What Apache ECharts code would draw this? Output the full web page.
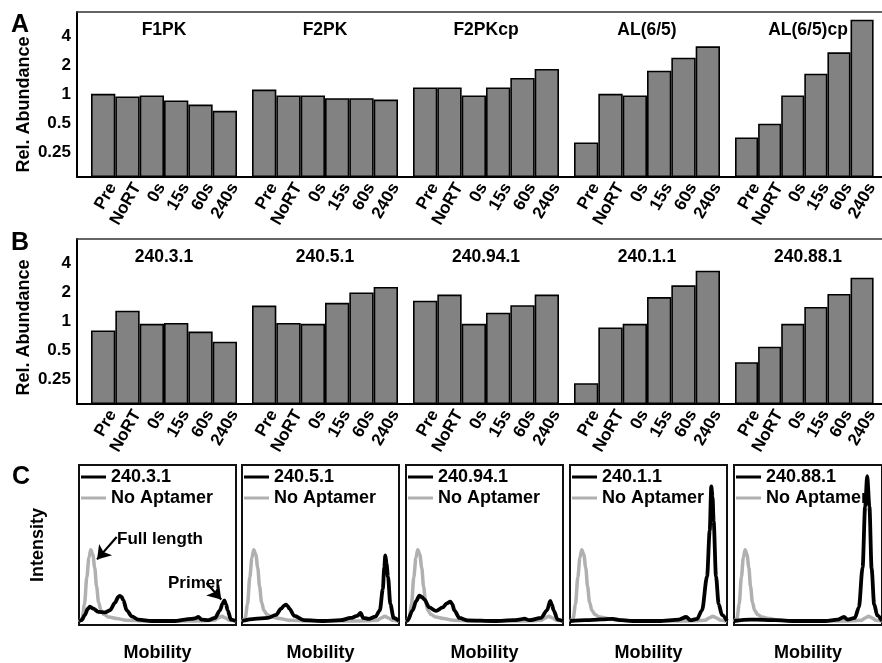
<!DOCTYPE html>
<html>
<head>
<meta charset="utf-8">
<script src="https://cdn.jsdelivr.net/npm/echarts@6/dist/echarts.min.js"></script>
<style>html,body{margin:0;padding:0;background:#fff}#c{width:882px;height:663px}</style>
</head>
<body>
<div id="c"></div>
<script>
// ---------- DATA ----------
const categories = ['Pre', 'NoRT', '0s', '15s', '60s', '240s'];
const tickValues = [0.25, 0.5, 1, 2, 4];
const tickLabels = ['0.25', '0.5', '1', '2', '4'];

const titlesA = ['F1PK', 'F2PK', 'F2PKcp', 'AL(6/5)', 'AL(6/5)cp'];
const f1pk    = [1.02, 0.96, 0.98, 0.87, 0.79, 0.68];
const f2pk    = [1.13, 0.98, 0.98, 0.92, 0.92, 0.89];
const f2pkcp  = [1.19, 1.19, 0.98, 1.19, 1.49, 1.85];
const al65    = [0.32, 1.02, 0.98, 1.77, 2.42, 3.17];
const al65cp  = [0.36, 0.50, 0.98, 1.65, 2.75, 6.0];

const titlesB = ['240.3.1', '240.5.1', '240.94.1', '240.1.1', '240.88.1'];
const b240_3_1  = [0.81, 1.30, 0.95, 0.97, 0.79, 0.62];
const b240_5_1  = [1.47, 0.97, 0.95, 1.57, 2.01, 2.29];
const b240_94_1 = [1.65, 1.91, 0.95, 1.24, 1.48, 1.91];
const b240_1_1  = [0.23, 0.87, 0.95, 1.80, 2.38, 3.38];
const b240_88_1 = [0.38, 0.55, 0.95, 1.42, 1.94, 2.86];

// Panel C traces: [mobility %, intensity %]
const noAptamer = [[0,2],[2,4],[3.5,13],[5,30],[6.3,42],[7.5,47],[8.8,44],[10,36],[11.2,24],[12.5,14],[14,9],[16,6.5],[19,5],[24,4],[30,3],[40,2.5],[50,2.5],[60,2.5],[70,2.5],[80,2.6],[86,3],[89,4.5],[91,5.5],[93,4.5],[96,3],[100,2.5]];
const t240_3_1 = [[0,2.5],[1.7,3],[3.8,6.3],[5.5,10],[7,11.5],[9.1,10.2],[12.3,8.2],[16.6,7.9],[19.7,9.2],[23,14],[25,17.5],[26,18.2],[27.2,17.5],[28.2,15.5],[30.4,9.2],[33.6,5.4],[37.8,3.4],[46.3,2.5],[61.1,2.5],[67.5,3.4],[71.7,3.8],[74,4.2],[76,5],[78.1,3.4],[82.4,3],[86.6,4.4],[89.8,9.2],[91.5,13.5],[92.6,15.3],[93.6,13],[94.7,9.2],[96.8,3.4],[100,2.5]];
const t240_5_1 = [[0,2.5],[8,3.8],[16.5,4.4],[21.7,6.3],[24.9,10.2],[27,12.3],[28,12.7],[29,12],[30.2,10.2],[33.3,5.7],[39.7,3],[52.3,2.5],[62.8,3],[69.2,4.4],[73.4,5.7],[75.5,7.5],[77.2,4.4],[80.8,3.8],[85,5.2],[87.8,9.2],[89.7,22.4],[90.6,36],[91.3,43.5],[92.1,38],[93,30],[94.5,13],[96.6,4.4],[100,2.5]];
const t240_94_1 = [[0,2.5],[1,2.8],[4.2,9.2],[6.5,15],[8.5,18.4],[10,17.5],[11.7,16],[14.8,11],[19.1,8.8],[23.4,11],[26,13.5],[28.2,14.6],[29.5,13],[30.8,9.2],[34,4.4],[39.3,2.9],[56,2.5],[69,3],[73,3.5],[75.4,4],[78.5,3],[86,4.4],[89.8,9.2],[91.9,15],[93,12.5],[94,9.2],[96.6,3.4],[100,2.5]];
const t240_1_1 = [[0,2.5],[10.2,3],[20,3.5],[27.1,3.8],[33,3],[39.8,2.5],[56.6,2.5],[69.4,3.4],[74,5],[76.7,3],[80.9,3.8],[84.1,9.2],[87.3,30.3],[89,59],[90,86.6],[90.8,80],[91.5,64.7],[93,30.3],[94.7,13],[96.8,6.3],[100,2.5]];
const t240_88_1 = [[0,2.5],[11,3.4],[20,3.2],[27.9,3],[40.5,2.5],[61.6,2.5],[70,3.4],[74.3,5],[76.8,3.4],[81.6,4.4],[84.4,11],[86.9,36],[88.6,74],[90,93],[91.5,74],[93,35],[94.7,13],[96.8,6],[100,2.5]];

// ---------- LAYOUT / STYLE ----------
const FONT = '"Liberation Sans", Arial, Helvetica, sans-serif';
const LOG_MIN = 0.14, LOG_MAX = 7.2;
const tr = v => Math.log2(v / LOG_MIN);
const TMAX = tr(LOG_MAX);
const barLefts = [91, 252, 413, 574, 735];
const lineLefts = [79, 242, 406, 570, 734];

const grids = [], xAxes = [], yAxes = [], series = [], titles = [], legends = [];
const txt = (size) => ({fontSize: size, fontWeight: 'bold', color: '#000', fontFamily: FONT});

function addFrame(top, nameShift) {
  const gi = grids.length;
  grids.push({left: 77, top: top, width: 830, height: 165});
  xAxes.push({gridIndex: gi, type: 'value', min: 0, max: 1, position: 'bottom',
    axisLine: {show: true, onZero: false, lineStyle: {color: '#000', width: 2}},
    axisTick: {show: false}, axisLabel: {show: false}, splitLine: {show: false}});
  xAxes.push({gridIndex: gi, type: 'value', min: 0, max: 1, position: 'top',
    axisLine: {show: true, onZero: false, lineStyle: {color: '#333', width: 1.5}},
    axisTick: {show: false}, axisLabel: {show: false}, splitLine: {show: false}});
  yAxes.push({gridIndex: gi, type: 'value', min: 0, max: TMAX,
    axisLine: {show: true, onZero: false, lineStyle: {color: '#000', width: 2}},
    axisTick: {show: false}, splitLine: {show: false},
    axisLabel: Object.assign(txt(17), {margin: 6, customValues: tickValues.map(tr),
      formatter: (val) => {
        const v = Math.pow(2, val) * LOG_MIN;
        let best = 0;
        tickValues.forEach((t, i) => { if (Math.abs(Math.log2(t / v)) < Math.abs(Math.log2(tickValues[best] / v))) best = i; });
        return tickLabels[best];
      }}),
    name: 'Rel. Abundance', nameLocation: 'middle', nameGap: 44, nameMoveOverlap: false,
    nameTextStyle: Object.assign(txt(18), {padding: [0, nameShift, 0, 0]})});
}

function addBars(top, titleList, dataList) {
  dataList.forEach((vals, i) => {
    const gi = grids.length;
    grids.push({left: barLefts[i], top: top, width: 146, height: 165});
    const xi = xAxes.length, yi = yAxes.length;
    xAxes.push({gridIndex: gi, type: 'category', data: categories,
      axisLine: {show: false}, axisTick: {show: false}, splitLine: {show: false},
      axisLabel: Object.assign(txt(17), {interval: 0, rotate: 60, margin: 2, lineHeight: 22,
        formatter: (v) => '\n' + v})});
    yAxes.push({gridIndex: gi, type: 'value', min: 0, max: TMAX, show: false});
    series.push({type: 'bar', xAxisIndex: xi, yAxisIndex: yi, data: vals.map(tr),
      barCategoryGap: '0%', silent: true,
      itemStyle: {color: '#828282', borderColor: '#000', borderWidth: 1.6}});
    titles.push({text: titleList[i], left: barLefts[i] + 73, top: top + 9, textAlign: 'center', padding: 0,
      textStyle: txt(17.5)});
  });
}

addFrame(12, 20);
addBars(12, titlesA, [f1pk, f2pk, f2pkcp, al65, al65cp]);
addFrame(239, 12);
addBars(239, titlesB, [b240_3_1, b240_5_1, b240_94_1, b240_1_1, b240_88_1]);

const traces = [t240_3_1, t240_5_1, t240_94_1, t240_1_1, t240_88_1];
traces.forEach((tr_, i) => {
  const gi = grids.length;
  grids.push({left: lineLefts[i], top: 465, width: 157, height: 174, show: true,
    borderColor: '#111', borderWidth: 2, backgroundColor: 'transparent'});
  const xi = xAxes.length, yi = yAxes.length;
  xAxes.push({gridIndex: gi, type: 'value', min: 0, max: 100,
    axisLine: {show: false}, axisTick: {show: false}, axisLabel: {show: false}, splitLine: {show: false},
    name: 'Mobility', nameLocation: 'middle', nameGap: 19, nameTextStyle: txt(18)});
  yAxes.push({gridIndex: gi, type: 'value', min: 0, max: 100,
    axisLine: {show: false}, axisTick: {show: false}, axisLabel: {show: false}, splitLine: {show: false},
    name: i === 0 ? 'Intensity' : '', nameLocation: 'middle', nameGap: 32, nameMoveOverlap: false,
    nameTextStyle: txt(18)});
  series.push({type: 'line', name: 'No Aptamer', xAxisIndex: xi, yAxisIndex: yi, data: noAptamer,
    showSymbol: false, smooth: 0.3, smoothMonotone: 'x', silent: true, color: '#b0b0b0',
    lineStyle: {color: '#b0b0b0', width: 3.5}});
  const s = {type: 'line', name: titlesB[i], xAxisIndex: xi, yAxisIndex: yi, data: tr_,
    showSymbol: false, smooth: 0.3, smoothMonotone: 'x', silent: true, color: '#000',
    lineStyle: {color: '#000', width: 3.8}};
  if (i === 0) {
    s.markLine = {silent: true, symbol: ['none', 'arrow'], symbolSize: 13, animation: false,
      label: {show: false}, lineStyle: {color: '#000', width: 2.2, type: 'solid'},
      data: [[{coord: [24, 55]}, {coord: [11.5, 41]}], [{coord: [81.3, 26.3]}, {coord: [90.6, 16]}]]};
  }
  series.push(s);
  legends.push({left: lineLefts[i] + 2, top: 468, orient: 'vertical', padding: 0, itemGap: 3,
    icon: 'rect', itemWidth: 25, itemHeight: 3, selectedMode: false,
    textStyle: Object.assign(txt(18), {lineHeight: 18}), data: [titlesB[i], 'No Aptamer']});
});

const chart = echarts.init(document.getElementById('c'), null, {renderer: 'canvas'});
chart.setOption({
  animation: false,
  backgroundColor: '#fff',
  title: titles,
  legend: legends,
  grid: grids,
  xAxis: xAxes,
  yAxis: yAxes,
  series: series,
  graphic: [
    {type: 'text', left: 11, top: 13, style: {text: 'A', font: 'bold 25px ' + FONT, fill: '#000'}},
    {type: 'text', left: 11, top: 231, style: {text: 'B', font: 'bold 25px ' + FONT, fill: '#000'}},
    {type: 'text', left: 12, top: 465, style: {text: 'C', font: 'bold 25px ' + FONT, fill: '#000'}},
    {type: 'text', left: 117, top: 531, style: {text: 'Full length', font: 'bold 17px ' + FONT, fill: '#000'}},
    {type: 'text', left: 168, top: 575, style: {text: 'Primer', font: 'bold 17px ' + FONT, fill: '#000'}}
  ]
});
</script>
</body>
</html>
